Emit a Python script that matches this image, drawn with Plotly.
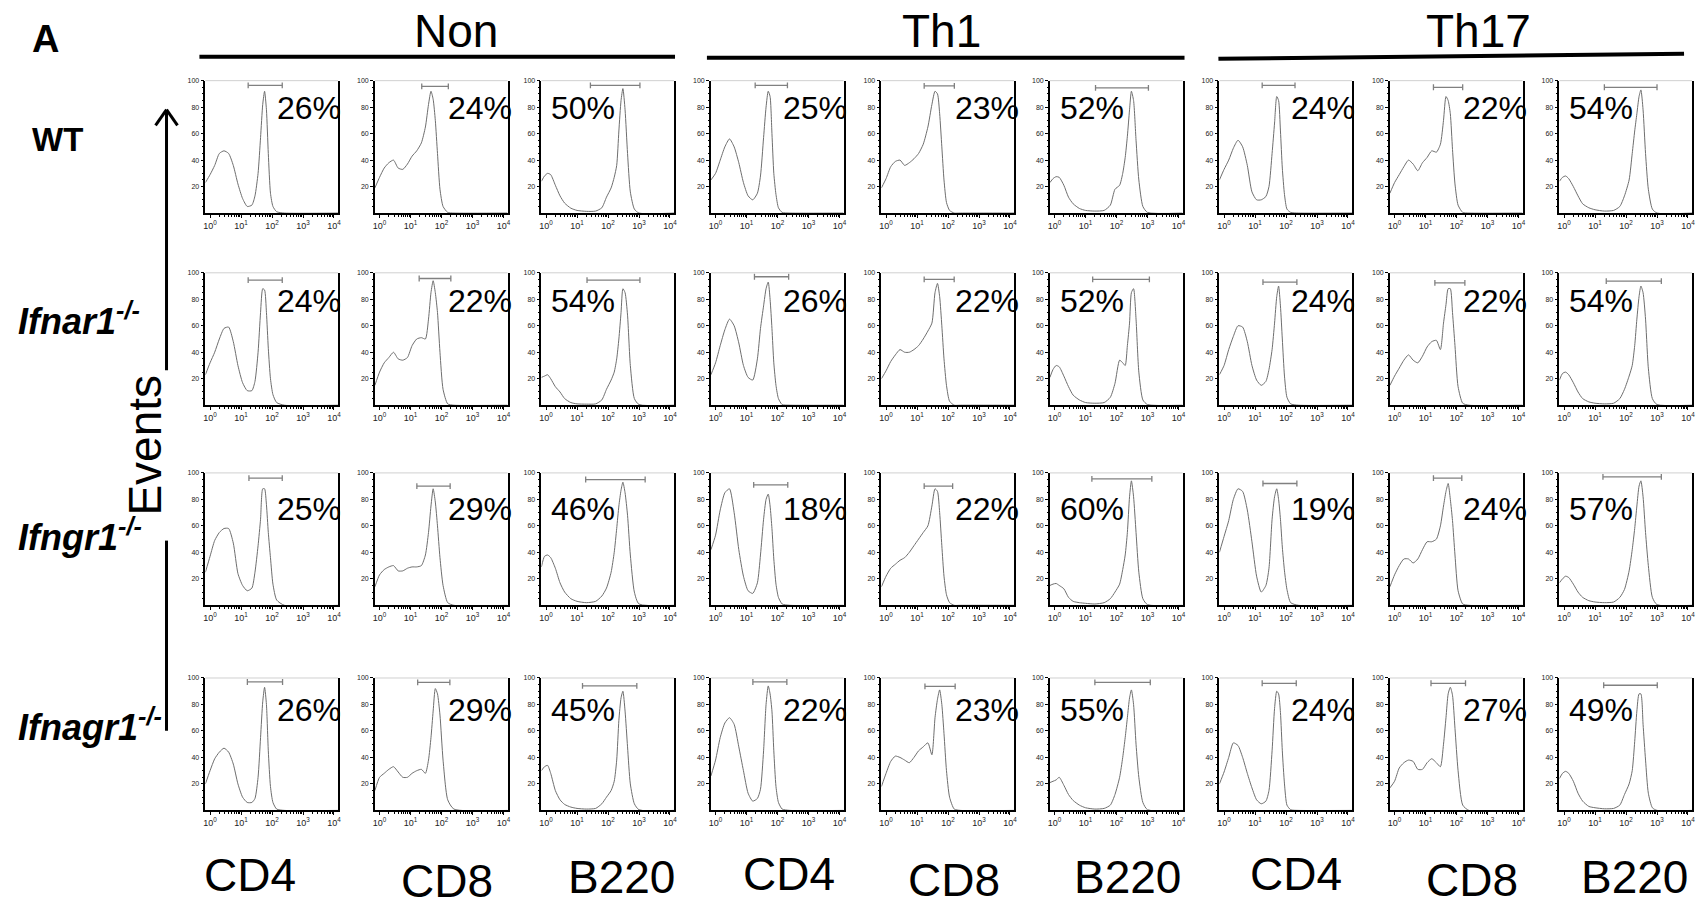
import plotly.graph_objects as go

# ---------------- data ----------------
genotypes = ["WT", "Ifnar1", "Ifngr1", "Ifnagr1"]
conditions = ["Non", "Th1", "Th17"]
markers = ["CD4", "CD8", "B220"]

# fluorescence grid (log10 exponents) per marker
cd4_exp = [-0.15, 0.0, 0.15, 0.3, 0.45, 0.6, 0.75, 0.9, 1.05, 1.2, 1.35, 1.45, 1.55, 1.63, 1.70, 1.76, 1.82, 1.88, 1.95, 2.03, 2.15, 2.4, 4.13]
cd8_exp = [-0.15, 0.0, 0.15, 0.3, 0.45, 0.6, 0.75, 0.9, 1.05, 1.2, 1.35, 1.48, 1.58, 1.66, 1.73, 1.80, 1.87, 1.95, 2.05, 2.2, 2.4, 4.13]
b220_exp = [-0.15, -0.05, 0.05, 0.15, 0.3, 0.45, 0.6, 0.8, 1.0, 1.3, 1.6, 1.8, 1.95, 2.1, 2.2, 2.28, 2.35, 2.42, 2.48, 2.55, 2.63, 2.72, 2.85, 3.0, 4.13]

# events (% of max)
wt_non_cd4 = [23, 29, 36, 45, 47, 45, 36, 22, 11, 5, 6, 13, 30, 57, 82, 92, 78, 45, 15, 5, 1, 0, 0]
wt_non_cd8 = [19, 27, 34, 38, 40, 34, 33, 37, 43, 47, 53, 65, 82, 92, 86, 70, 45, 18, 5, 0.5, 0, 0]
wt_non_b220 = [24, 28, 30, 29, 21, 13, 7.5, 3.7, 2, 1.3, 1.5, 4, 12, 19, 27, 36, 62, 85, 94, 78, 45, 16, 3, 0, 0]
wt_th1_cd4 = [25, 30, 40, 50, 56, 50, 38, 23, 13, 10, 15, 28, 57, 80, 92, 88, 60, 30, 14, 4, 0.5, 0, 0]
wt_th1_cd8 = [19, 26, 35, 39, 40, 36, 38, 41, 45, 52, 65, 82, 92, 90, 75, 50, 25, 8, 2, 0, 0, 0]
wt_th1_b220 = [23, 26, 27.5, 27, 21, 12, 7, 3.5, 2, 1.5, 2, 6, 18, 21, 30, 42, 58, 78, 92, 85, 55, 25, 5, 0.5, 0]
wt_th17_cd4 = [25, 33, 40, 49, 55, 50, 36, 16, 10, 10, 12.5, 20, 45, 68, 88, 85, 62, 34, 14, 3, 0.5, 0, 0]
wt_th17_cd8 = [15, 23, 29, 35, 40, 37, 32, 38, 42, 47, 46, 52, 70, 88, 85, 75, 48, 22, 6, 0.5, 0, 0]
wt_th17_b220 = [24, 27, 28, 26, 20, 13, 7, 4, 2.5, 1.5, 2, 5, 13, 25, 45, 62, 75, 88, 93, 78, 45, 18, 3, 0, 0]

ifnar_non_cd4 = [23, 32, 40, 50, 58, 59, 48, 30, 17, 11, 11, 18, 40, 70, 88, 87, 70, 43, 20, 8, 2, 0, 0]
ifnar_non_cd8 = [15, 25, 32, 36, 40, 35, 34, 36, 45, 50, 51, 50, 65, 85, 94, 85, 70, 40, 12, 1, 0, 0]
ifnar_non_b220 = [21, 22, 23, 20, 14, 10, 5, 2, 1, 0.8, 1, 4, 12, 19, 25, 35, 50, 70, 88, 85, 68, 30, 5, 0.5, 0]
ifnar_th1_cd4 = [23, 32, 45, 57, 65, 60, 47, 30, 21, 19, 35, 58, 75, 88, 93, 80, 58, 32, 15, 5, 0.5, 0, 0]
ifnar_th1_cd8 = [20, 26, 33, 38, 42, 40, 40, 42, 45, 50, 56, 62, 85, 92, 82, 60, 35, 15, 3, 0, 0, 0]
ifnar_th1_b220 = [21, 27, 30, 29, 22, 14, 7.6, 4, 2, 1.5, 2, 6, 16.5, 34, 32, 30, 45, 62, 85, 88, 65, 25, 4, 0.5, 0]
ifnar_th17_cd4 = [23, 30, 42, 52, 60, 59, 48, 30, 19, 15, 18, 27, 42, 62, 82, 90, 75, 50, 22, 6, 1, 0, 0]
ifnar_th17_cd8 = [15, 22, 28, 34, 38, 34, 32, 37, 44, 48, 49, 42, 62, 76, 88, 88, 70, 45, 14, 1.5, 0, 0]
ifnar_th17_b220 = [19, 24, 25, 23, 17, 10, 5, 2.5, 1.5, 1, 1.5, 5, 12, 22, 30, 45, 65, 82, 90, 85, 65, 28, 5, 0.5, 0]

ifngr_non_cd4 = [25, 37, 49, 55, 58, 58, 47, 24, 15, 11, 13, 25, 45, 65, 88, 88, 76, 55, 36, 16, 4, 0, 0]
ifngr_non_cd8 = [14, 23, 27, 29, 30, 26, 26, 28, 29, 29, 30, 38, 55, 75, 88, 78, 60, 36, 15, 2, 0, 0]
ifngr_non_b220 = [29, 37, 38, 36, 28, 17, 10, 5, 3, 2, 3, 7, 13, 25, 40, 58, 75, 87, 93, 85, 68, 38, 10, 1, 0]
ifngr_th1_cd4 = [42, 53, 72, 85, 88, 70, 42, 22, 11, 9, 17, 38, 65, 80, 84, 75, 58, 35, 16, 6, 1, 0, 0]
ifngr_th1_cd8 = [14, 22, 28, 31, 34, 36, 40, 45, 50, 55, 60, 75, 88, 86, 70, 45, 22, 8, 2, 0, 0, 0]
ifngr_th1_b220 = [15, 16, 16.5, 15, 12.5, 6, 3, 2, 1.5, 1, 2, 5, 10, 16, 27, 38, 55, 82, 94, 82, 55, 25, 5, 0.5, 0]
ifngr_th17_cd4 = [40, 52, 64, 80, 88, 86, 72, 48, 22, 10, 15, 28, 65, 82, 88, 80, 65, 44, 26, 12, 2, 0, 0]
ifngr_th17_cd8 = [14, 23, 30, 35, 35, 32, 35, 42, 48, 48, 50, 60, 75, 86, 92, 80, 64, 38, 11, 1, 0, 0]
ifngr_th17_b220 = [17, 20, 22, 21, 16, 10, 6, 3.5, 2.5, 2, 2.5, 6, 12, 26, 42, 58, 75, 90, 94, 82, 55, 30, 6, 0.5, 0]

ifnagr_non_cd4 = [20, 30, 39, 44, 47, 44, 35, 20, 10, 6, 6, 9, 25, 55, 82, 93, 80, 45, 18, 6, 1, 0, 0]
ifnagr_non_cd8 = [15, 25, 28, 31, 33, 29, 25, 25, 28, 30, 31, 28, 38, 55, 75, 92, 88, 72, 38, 8, 1, 0]
ifnagr_non_b220 = [30, 33, 34, 28, 15, 8, 4.5, 2.5, 1.5, 1, 1.5, 5, 10, 15, 22, 38, 68, 85, 90, 75, 48, 20, 5, 0.5, 0]
ifnagr_th1_cd4 = [26, 38, 55, 66, 70, 65, 48, 30, 13, 7, 9, 16, 45, 80, 94, 88, 75, 45, 18, 6, 1, 0, 0]
ifnagr_th1_cd8 = [18, 28, 37, 41, 40, 38, 36, 40, 45, 48, 51, 42, 70, 84, 91, 80, 58, 30, 10, 1, 0, 0]
ifnagr_th1_b220 = [21, 22, 23, 25, 19, 12, 7.5, 4, 2, 1, 1.5, 4, 12, 25, 40, 55, 70, 85, 91, 80, 50, 25, 6, 0.5, 0]
ifnagr_th17_cd4 = [20, 29, 40, 51, 49, 40, 28, 17, 8, 5, 7, 15, 45, 77, 90, 88, 74, 45, 20, 4, 0.5, 0, 0]
ifnagr_th17_cd8 = [17, 22, 32, 36, 38, 37, 31, 31, 36, 39, 36, 33, 50, 70, 88, 93, 87, 62, 30, 4, 0, 0]
ifnagr_th17_b220 = [24, 28, 29.5, 28, 22, 13, 7, 3, 2, 1.2, 1.5, 4, 12, 20, 30, 52, 75, 88, 88, 65, 38, 13, 2, 0, 0]

histograms = [
    wt_non_cd4, wt_non_cd8, wt_non_b220, wt_th1_cd4, wt_th1_cd8, wt_th1_b220, wt_th17_cd4, wt_th17_cd8, wt_th17_b220,
    ifnar_non_cd4, ifnar_non_cd8, ifnar_non_b220, ifnar_th1_cd4, ifnar_th1_cd8, ifnar_th1_b220, ifnar_th17_cd4, ifnar_th17_cd8, ifnar_th17_b220,
    ifngr_non_cd4, ifngr_non_cd8, ifngr_non_b220, ifngr_th1_cd4, ifngr_th1_cd8, ifngr_th1_b220, ifngr_th17_cd4, ifngr_th17_cd8, ifngr_th17_b220,
    ifnagr_non_cd4, ifnagr_non_cd8, ifnagr_non_b220, ifnagr_th1_cd4, ifnagr_th1_cd8, ifnagr_th1_b220, ifnagr_th17_cd4, ifnagr_th17_cd8, ifnagr_th17_b220,
]

pct_wt = ["26%", "24%", "50%", "25%", "23%", "52%", "24%", "22%", "54%"]
pct_ifnar = ["24%", "22%", "54%", "26%", "22%", "52%", "24%", "22%", "54%"]
pct_ifngr = ["25%", "29%", "46%", "18%", "22%", "60%", "19%", "24%", "57%"]
pct_ifnagr = ["26%", "29%", "45%", "22%", "23%", "55%", "24%", "27%", "49%"]
percents = pct_wt + pct_ifnar + pct_ifngr + pct_ifnagr

# gate bounds (fluorescence) and gate height (events)
gate_lo = [17, 23, 27, 19, 17, 21, 17, 18, 20,
           17, 19, 21, 18, 17, 17, 18, 20, 23,
           18, 16, 19, 17, 17, 16, 18, 18, 18,
           16, 17, 15, 16, 18, 20, 17, 15, 19]
gate_hi = [214, 166, 1070, 209, 160, 1070, 195, 158, 1000,
           214, 200, 1070, 229, 158, 1150, 224, 186, 1380,
           214, 190, 1580, 214, 141, 1380, 224, 148, 1380,
           219, 186, 850, 200, 170, 1230, 214, 195, 1020]
gate_y = [96.5, 95.7, 96.5, 96.5, 96, 94.5, 96.5, 95, 95,
          94.5, 95.7, 94.5, 97, 95, 95, 93, 92.4, 93.7,
          96, 90, 95, 91, 90, 95.5, 92, 96, 97,
          97, 96.7, 94, 97, 93.7, 96.7, 96, 96, 94.5]

decades = [1, 10, 100, 1000, 10000]
decade_text = ["10<sup>0</sup>", "10<sup>1</sup>", "10<sup>2</sup>", "10<sup>3</sup>", "10<sup>4</sup>"]
minor_x = [m * d for d in [1, 10, 100, 1000] for m in range(2, 10)]
y_ticks = [20, 40, 60, 80, 100]
minor_y = [v for v in range(5, 100, 5) if v % 20 != 0]

# ---------------- layout geometry ----------------
W, H = 1702, 900
col_left = [204, 374, 541, 711, 882, 1051, 1221, 1392, 1562]
row_top = [77, 270, 471, 677]
PW, PH = 133, 133
FONT = "Liberation Sans, Arial, sans-serif"

grids = {"CD4": cd4_exp, "CD8": cd8_exp, "B220": b220_exp}

fig = go.Figure()
layout = dict(
    width=W, height=H, margin=dict(l=0, r=0, t=0, b=0),
    paper_bgcolor="white", plot_bgcolor="white", showlegend=False,
    font=dict(family=FONT, color="black"),
)
annotations = []
shapes = []

pct_y_row = [0.79, 0.79, 0.73, 0.76]
pct_x_right = {"CD4": 1.04, "CD8": 1.05}

k = 0
for r in range(4):
    for c in range(9):
        k += 1
        marker = markers[c % 3]
        sfx = "" if k == 1 else str(k)
        xs = [10 ** e for e in grids[marker]]
        ys = histograms[k - 1]
        fig.add_trace(go.Scatter(
            x=xs, y=ys, xaxis="x" + sfx, yaxis="y" + sfx, mode="lines",
            line=dict(color="#6e6e6e", width=1, shape="spline", smoothing=0.6),
            hoverinfo="skip"))
        lo, hi, gy = gate_lo[k - 1], gate_hi[k - 1], gate_y[k - 1]
        fig.add_trace(go.Scatter(
            x=[lo, hi, None, lo, lo, None, hi, hi],
            y=[gy, gy, None, gy - 2.2, gy + 2.2, None, gy - 2.2, gy + 2.2],
            xaxis="x" + sfx, yaxis="y" + sfx, mode="lines",
            line=dict(color="#808080", width=1.3), hoverinfo="skip", cliponaxis=False))
        l = col_left[c]
        t = row_top[r]
        layout["xaxis" + sfx] = dict(
            domain=[l / W, (l + PW) / W], anchor="y" + sfx, type="log", range=[-0.15, 4.13],
            showline=True, linecolor="black", linewidth=1.6, mirror=False,
            ticks="outside", ticklen=3, tickwidth=1, tickcolor="black",
            tickmode="array", tickvals=decades, ticktext=decade_text,
            tickfont=dict(size=9, family=FONT, color="#222"),
            minor=dict(ticks="outside", ticklen=1.8, tickwidth=0.7, tickcolor="black",
                       tickmode="array", tickvals=minor_x, showgrid=False),
            showgrid=False, zeroline=False, fixedrange=True)
        layout["yaxis" + sfx] = dict(
            domain=[1 - (t + PH) / H, 1 - t / H], anchor="x" + sfx, range=[0, 100],
            showline=True, linecolor="black", linewidth=1.6, mirror=True,
            ticks="outside", ticklen=3, tickwidth=1, tickcolor="black",
            tickmode="array", tickvals=y_ticks, ticktext=[str(v) for v in y_ticks],
            tickfont=dict(size=7, family=FONT, color="#222"),
            minor=dict(ticks="outside", ticklen=1.5, tickwidth=0.7, tickcolor="black",
                       tickmode="array", tickvals=minor_y, showgrid=False),
            showgrid=False, zeroline=False, fixedrange=True)
        shapes.append(dict(type="line", xref="x" + sfx + " domain", yref="y" + sfx + " domain",
                           x0=0, x1=1, y0=1, y1=1, line=dict(color="#d0d0d0", width=1)))
        if marker == "B220":
            annotations.append(dict(text=percents[k - 1], xref="x" + sfx + " domain", yref="y" + sfx + " domain",
                                    x=0.06, y=pct_y_row[r], xanchor="left", yanchor="middle", showarrow=False,
                                    font=dict(size=32, family=FONT, color="black")))
        else:
            annotations.append(dict(text=percents[k - 1], xref="x" + sfx + " domain", yref="y" + sfx + " domain",
                                    x=pct_x_right[marker], y=pct_y_row[r], xanchor="right", yanchor="middle",
                                    showarrow=False, font=dict(size=32, family=FONT, color="black")))


def px(x):
    return x / W


def py(y):
    return 1 - y / H


def label(text, x, y, size, xanchor="center", angle=0):
    annotations.append(dict(text=text, x=px(x), y=py(y), xref="paper", yref="paper",
                            xanchor=xanchor, yanchor="middle", textangle=angle,
                            showarrow=False, font=dict(size=size, family=FONT, color="black")))


label("<b>A</b>", 44, 35, 38)
for name, cx in zip(conditions, [455, 942, 1481]):
    label(name, cx, 27, 46)
shapes.append(dict(type="line", xref="paper", yref="paper", x0=px(198), x1=px(675), y0=py(53), y1=py(53),
                   line=dict(color="black", width=4)))
shapes.append(dict(type="line", xref="paper", yref="paper", x0=px(707), x1=px(1186), y0=py(54), y1=py(54),
                   line=dict(color="black", width=4)))
shapes.append(dict(type="line", xref="paper", yref="paper", x0=px(1220), x1=px(1687), y0=py(55), y1=py(50),
                   line=dict(color="black", width=4)))

row_label_text = ["<b>WT</b>",
                  "<b><i>Ifnar1<sup>-/-</sup></i></b>",
                  "<b><i>Ifngr1<sup>-/-</sup></i></b>",
                  "<b><i>Ifnagr1<sup>-/-</sup></i></b>"]
row_label_x = [28, 14, 14, 14]
row_label_y = [136, 316, 533, 724]
row_label_size = [33, 36, 36, 36]
for txt, lx, ly, sz in zip(row_label_text, row_label_x, row_label_y, row_label_size):
    label(txt, lx, ly, sz, xanchor="left")

label("Events", 143, 443, 46, angle=-90)
shapes.append(dict(type="line", xref="paper", yref="paper", x0=px(165), x1=px(165), y0=py(368), y1=py(107),
                   line=dict(color="black", width=3)))
shapes.append(dict(type="line", xref="paper", yref="paper", x0=px(154), x1=px(165), y0=py(122), y1=py(106),
                   line=dict(color="black", width=3)))
shapes.append(dict(type="line", xref="paper", yref="paper", x0=px(176), x1=px(165), y0=py(122), y1=py(106),
                   line=dict(color="black", width=3)))
shapes.append(dict(type="line", xref="paper", yref="paper", x0=px(165), x1=px(165), y0=py(539), y1=py(730),
                   line=dict(color="black", width=3)))

bottom_x = [249, 446, 621, 789, 955, 1129, 1298, 1474, 1637]
bottom_y = [875, 881, 877, 874, 880, 877, 874, 880, 877]
for c in range(9):
    label(markers[c % 3], bottom_x[c], bottom_y[c], 46)

layout["annotations"] = annotations
layout["shapes"] = shapes
fig.update_layout(**layout)
fig.write_html("out.html", config={"displayModeBar": False},
               post_script="document.body.style.margin='0px';")
